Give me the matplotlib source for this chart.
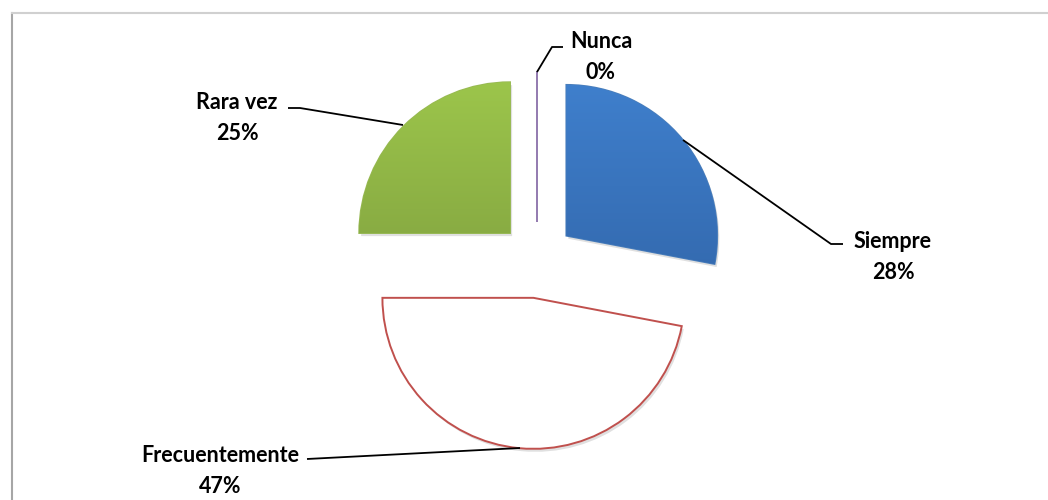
import matplotlib
matplotlib.use("Agg")
import matplotlib.pyplot as plt
import numpy as np
from matplotlib.patches import Wedge

categories = ["Siempre", "Frecuentemente", "Rara vez", "Nunca"]
values = [28, 47, 25, 0]
pct_labels = ["28%", "47%", "25%", "0%"]

W, H = 1048, 500
fig = plt.figure(figsize=(W / 100, H / 100), dpi=100)
ax = fig.add_axes([0, 0, 1, 1])

def py(y):
    return H - y

center = (537, py(260))
radius = 151
explode_px = 38

wedges, _ = ax.pie(values, startangle=90, counterclock=False,
                   explode=[explode_px] * 4, center=center, radius=radius,
                   colors=["#3D7CC9", "white", "#9BC34B", "#8064A2"],
                   wedgeprops=dict(linewidth=1.2), frame=True)
ax.set_aspect("equal")
ax.axis("off")

# shadows
for w in wedges[:3]:
    sh = Wedge((w.center[0] + 2, w.center[1] - 3), w.r, w.theta1, w.theta2,
               facecolor="#000000", edgecolor="none", alpha=0.12, zorder=0.5)
    ax.add_patch(sh)

grads = {0: ("#3F7FCC", "#2D5E9F", "#4A7EBB"),
         2: ("#9CC54B", "#76933B", "#98B954")}
for i, (top, bot, edge) in grads.items():
    w = wedges[i]
    w.set_edgecolor(edge)
    w.set_zorder(2)
    c1 = np.array(matplotlib.colors.to_rgb(top))
    c2 = np.array(matplotlib.colors.to_rgb(bot))
    t = np.linspace(0, 1, 256)[:, None]
    img = (c1[None, :] * (1 - t) + c2[None, :] * t)[:, None, :]
    cx, cy = w.center
    im = ax.imshow(img, extent=[cx - w.r, cx + w.r, cy - w.r, cy + w.r],
                   origin="upper", aspect="auto", zorder=2.5)
    im.set_clip_path(w)

wedges[1].set_edgecolor("#C0504D")
wedges[1].set_linewidth(1.4)
wedges[1].set_zorder(2)
wedges[3].set_edgecolor("#8064A2")
wedges[3].set_linewidth(1.2)

# leader lines
lines = {
    "Nunca": [(537, 72), (552, 47), (563, 47)],
    "Rara vez": [(288, 108), (300, 108), (403, 125)],
    "Siempre": [(683, 140), (831, 244), (843, 244)],
    "Frecuentemente": [(307, 459), (520, 448)],
}
for k, pts in lines.items():
    xs = [p[0] for p in pts]
    ys = [py(p[1]) for p in pts]
    ax.plot(xs, ys, color="black", lw=1.3, zorder=5, solid_capstyle="butt")

label_pos = {"Siempre": (893, 257), "Frecuentemente": (220, 471),
             "Rara vez": (237, 118), "Nunca": (601, 57)}
for cat, p in zip(categories, pct_labels):
    x, y = label_pos[cat]
    ax.text(x, py(y), f"{cat}\n{p}", ha="center", va="center",
            fontsize=15.5, fontweight="bold", family=["Lato", "DejaVu Sans"],
            linespacing=1.6, zorder=6)

# chart border
ax.plot([12, 12], [py(500), py(13)], color="#A6A6A6", lw=1.5, zorder=1)
ax.plot([12, 1048], [py(13), py(13)], color="#D0D0D0", lw=1.5, zorder=1)

ax.set_xlim(0, W)
ax.set_ylim(0, H)
fig.savefig("out.png", dpi=100)
